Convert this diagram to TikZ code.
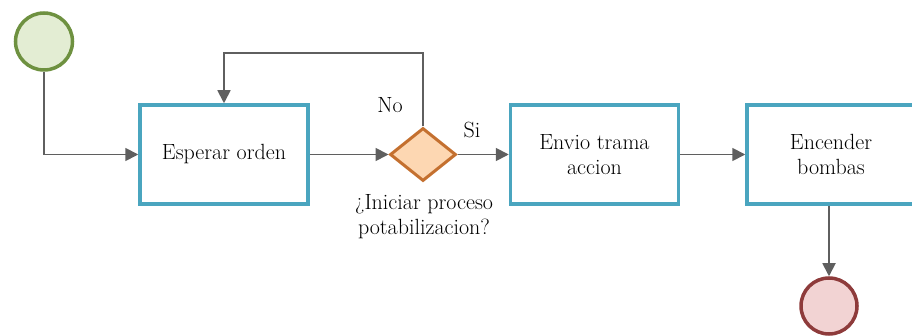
\documentclass[tikz,border=0pt]{standalone}
\usepackage{fontspec}
\usetikzlibrary{shapes.geometric,arrows.meta}
\definecolor{taskline}{HTML}{4AA5BF}
\definecolor{startline}{HTML}{6E9140}
\definecolor{startfill}{HTML}{E3EDD3}
\definecolor{endline}{HTML}{8E3B3B}
\definecolor{endfill}{HTML}{F2D3D3}
\definecolor{gateline}{HTML}{C4702F}
\definecolor{gatefill}{HTML}{FDD7B2}
\definecolor{flowline}{HTML}{5F5F5F}
\tikzset{
  txt/.style={font=\fontsize{22}{25}\selectfont,text=black},
  task/.style={txt,draw=taskline,line width=3.5pt,fill=white,minimum width=168pt,minimum height=99pt,align=center,inner sep=0pt},
  gate/.style={diamond,draw=gateline,fill=gatefill,line width=3pt,minimum width=66pt,minimum height=53pt,inner sep=0pt},
  event/.style={circle,line width=3.5pt,minimum size=57pt,inner sep=0pt},
  flow/.style={draw=flowline,line width=1.8pt,-{Triangle[length=13pt,width=13pt]}}
}
\begin{document}
\begin{tikzpicture}[x=1pt,y=-1pt]
\useasboundingbox (0,0) rectangle (912,336);
\node[event,draw=startline,fill=startfill] (start) at (44,41.5) {};
\node[task] (esperar) at (224,154.5) {Esperar orden};
\node[gate] (decide) at (423,154.5) {};
\node[task] (envio) at (594.5,154.5) {Envio trama\\accion};
\node[task] (encender) at (831,154.5) {Encender\\bombas};
\node[event,draw=endline,fill=endfill,minimum size=56pt] (end) at (829,306) {};
\coordinate (loop) at (423,53);
% labels
\node[txt,align=center] (pregunta) at (424,217) {¿Iniciar proceso\\potabilizacion?};
\node[txt] (no) at (390,105) {No};
\node[txt] (si) at (472,130) {Si};
% flows
\draw[flow] (start) |- (esperar);
\draw[flow] (esperar) -- (decide);
\draw[flow] (decide.north) -- (loop) -| (esperar.north);
\draw[flow] (decide) -- (envio);
\draw[flow] (envio) -- (encender);
\draw[flow] (encender.south -| end) -- (end);
\end{tikzpicture}
\end{document}
